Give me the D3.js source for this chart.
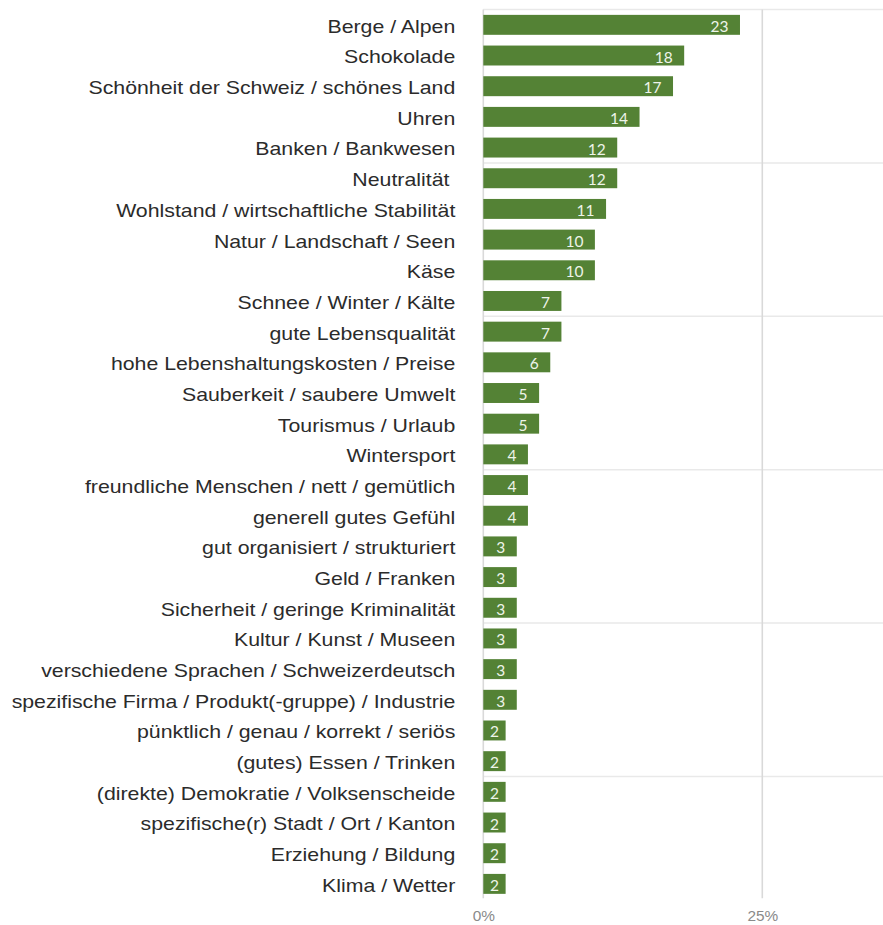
<!DOCTYPE html>
<html>
<head>
<meta charset="utf-8">
<script src="https://cdn.jsdelivr.net/npm/d3@7"></script>
<style>
  html, body { margin: 0; padding: 0; background: #fff; }
  svg { display: block; }
  .cat { white-space: pre; }
</style>
</head>
<body>
<svg id="chart" width="883" height="925"></svg>
<script>
// Associations with Switzerland, share of mentions in percent
const categories = [
  "Berge / Alpen",
  "Schokolade",
  "Schönheit der Schweiz / schönes Land",
  "Uhren",
  "Banken / Bankwesen",
  "Neutralität ",
  "Wohlstand / wirtschaftliche Stabilität",
  "Natur / Landschaft / Seen",
  "Käse",
  "Schnee / Winter / Kälte",
  "gute Lebensqualität",
  "hohe Lebenshaltungskosten / Preise",
  "Sauberkeit / saubere Umwelt",
  "Tourismus / Urlaub",
  "Wintersport",
  "freundliche Menschen / nett / gemütlich",
  "generell gutes Gefühl",
  "gut organisiert / strukturiert",
  "Geld / Franken",
  "Sicherheit / geringe Kriminalität",
  "Kultur / Kunst / Museen",
  "verschiedene Sprachen / Schweizerdeutsch",
  "spezifische Firma / Produkt(-gruppe) / Industrie",
  "pünktlich / genau / korrekt / seriös",
  "(gutes) Essen / Trinken",
  "(direkte) Demokratie / Volksenscheide",
  "spezifische(r) Stadt / Ort / Kanton",
  "Erziehung / Bildung",
  "Klima / Wetter"
];
const values = [23, 18, 17, 14, 12, 12, 11, 10, 10, 7, 7, 6, 5, 5, 4, 4, 4, 3, 3, 3, 3, 3, 3, 2, 2, 2, 2, 2, 2];
const gridValues = [0, 25, 50];
const tickLabels = [0, 25];

const svg = d3.select("#chart");
const plotLeft = 483.3, plotTop = 9.5, rowStep = 30.68;
const plotBottom = plotTop + rowStep * categories.length;

const x = d3.scaleLinear().domain([0, 50]).range([plotLeft, plotLeft + 558]);
const pad = 0.35;
const y = d3.scaleBand().domain(categories).range([plotTop, plotBottom])
  .paddingInner(pad).paddingOuter(pad / 2);

// horizontal gridlines every five rows
const hLines = d3.range(0, categories.length, 5).map(i => plotTop + i * rowStep);
svg.append("g").selectAll("line").data(hLines).join("line")
  .attr("x1", plotLeft).attr("x2", 883)
  .attr("y1", d => d).attr("y2", d => d)
  .attr("stroke", "#e9e9e9").attr("stroke-width", 1.5);

// vertical gridlines
svg.append("g").selectAll("line").data(gridValues).join("line")
  .attr("x1", d => x(d)).attr("x2", d => x(d))
  .attr("y1", plotTop).attr("y2", plotBottom - 1)
  .attr("stroke", "#d9d9d9").attr("stroke-width", 1.6);

// bars
svg.append("g").selectAll("rect").data(values).join("rect")
  .attr("x", x(0))
  .attr("y", (d, i) => y(categories[i]))
  .attr("width", d => x(d) - x(0))
  .attr("height", y.bandwidth())
  .attr("fill", "#548235");

// value labels inside the bars
const vl = svg.append("g").selectAll("text").data(values).join("text")
  .attr("y", (d, i) => y(categories[i]) + y.bandwidth() / 2 + 1)
  .attr("dominant-baseline", "central")
  .attr("text-anchor", "middle")
  .attr("fill", "#eef4ea")
  .style("font-family", "Lato, 'Open Sans', sans-serif")
  .style("font-size", "15.5px")
  .text(d => d);
vl.each(function(d) {
  const w = this.getComputedTextLength();
  const end = x(d);
  const cx = Math.max(end - 11.5 - w / 2, (x(0) + end) / 2);
  d3.select(this).attr("x", cx);
});

// category labels (horizontally widened Arial-like text)
const labelRight = plotLeft - 28;
svg.append("g").selectAll("g").data(categories).join("g")
  .attr("transform", d => `translate(${labelRight},${y(d) + y.bandwidth() / 2 + 7.9}) scale(1.145,1)`)
  .append("text")
  .attr("class", "cat")
  .attr("text-anchor", "end")
  .attr("fill", "#2b2b2b")
  .style("font-family", "'Liberation Sans', Arial, sans-serif")
  .style("font-size", "18.6px")
  .text(d => d);

// axis tick labels
const axis = d3.axisBottom(x).tickValues(tickLabels).tickFormat(d => d + "%").tickSize(0).tickPadding(0);
const ax = svg.append("g").attr("transform", `translate(0,${plotBottom})`).call(axis);
ax.select(".domain").remove();
ax.selectAll(".tick text")
  .attr("y", 22)
  .attr("dy", 0)
  .attr("fill", "#8a8a8a")
  .attr("transform", "scale(1.1,1)")
  .style("font-family", "'Liberation Sans', Arial, sans-serif")
  .style("font-size", "14px");
</script>
</body>
</html>
